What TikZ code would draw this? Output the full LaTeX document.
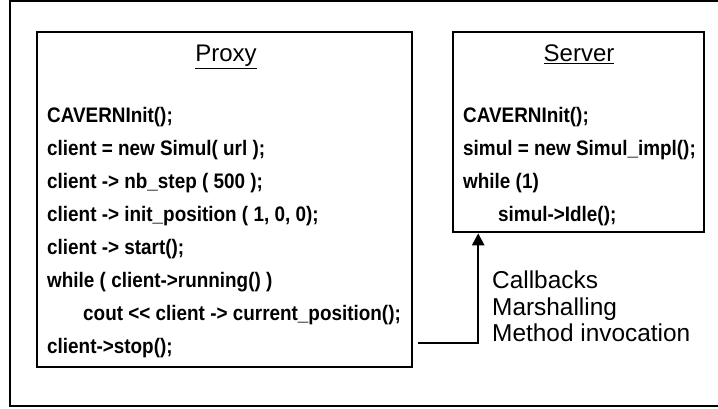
\documentclass[tikz,border=0pt]{standalone}
\usepackage{fontspec}
\setmainfont{Liberation Sans}
\newfontfamily\codefont[FakeStretch=0.9]{Liberation Sans}
\usetikzlibrary{arrows.meta}
\begin{document}
\begin{tikzpicture}[x=1pt,y=1pt,
  frame/.style={draw=black,line width=2.2pt},
  box/.style={draw=black,line width=2.6pt,rectangle,inner sep=0pt},
  title/.style={anchor=base,inner sep=0pt,font=\fontsize{24}{24}\selectfont},
  code/.style={anchor=base west,inner sep=0pt,font=\codefont\bfseries\fontsize{21}{21}\selectfont},
  note/.style={anchor=base west,inner sep=0pt,font=\fontsize{24.4}{24.4}\selectfont},
  conn/.style={draw=black,line width=2.4pt,-{Triangle[length=12pt,width=12pt]}}]
\useasboundingbox (0,0) rectangle (718,409);
\begin{scope}
\clip (0,0) rectangle (718,409);
\draw[frame] (10,3) rectangle (725,408);
\end{scope}
% boxes
\node[box,minimum width=375pt,minimum height=335pt] (proxy) at (224.5,209.5) {};
\node[box,minimum width=251pt,minimum height=200pt] (server) at (578.5,277) {};
% titles
\node[title] (ptitle) at (226,347) {\underline{Proxy}};
\node[title] (stitle) at (579,347) {\underline{Server}};
% proxy code
\node[code] (p1) at (47,286.5) {CAVERNInit();};
\node[code] (p2) at (47,253.5) {client = new Simul( url );};
\node[code] (p3) at (47,220.5) {client -> nb\_step ( 500 );};
\node[code] (p4) at (47,187.5) {client -> init\_position ( 1, 0, 0);};
\node[code] (p5) at (47,154.5) {client -> start();};
\node[code] (p6) at (47,121.5) {while ( client->running() )};
\node[code] (p7) at (83,88.5) {cout << client -> current\_position();};
\node[code] (p8) at (47,55.5) {client->stop();};
% server code
\node[code] (s1) at (463,286.5) {CAVERNInit();};
\node[code] (s2) at (463,253.5) {simul = new Simul\_impl();};
\node[code] (s3) at (463,220.5) {while (1)};
\node[code] (s4) at (498,187.5) {simul->Idle();};
% notes
\node[note] (n1) at (492,120.5) {Callbacks};
\node[note] (n2) at (492,93.8) {Marshalling};
\node[note] (n3) at (492,67.1) {Method invocation};
% connector
\coordinate (c0) at (418,66);
\draw[conn] (c0) -| ([xshift=26.5pt]server.south west);
\end{tikzpicture}
\end{document}
